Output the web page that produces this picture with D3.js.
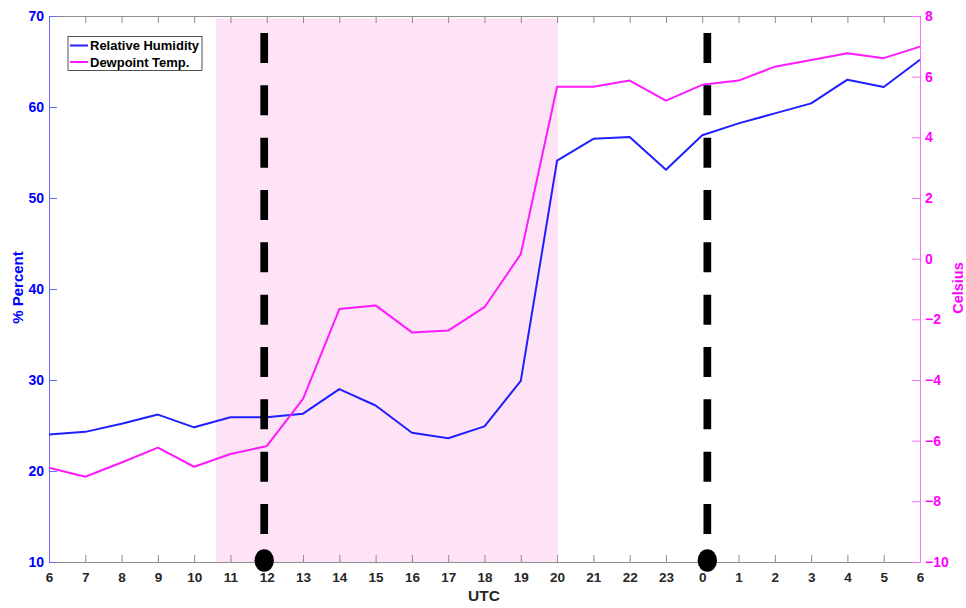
<!DOCTYPE html>
<html>
<head>
<meta charset="utf-8">
<script src="https://cdn.jsdelivr.net/npm/d3@7"></script>
<style>
  html, body { margin: 0; padding: 0; background: #fff; }
  svg { display: block; font-family: "Liberation Sans", Arial, Helvetica, sans-serif; font-weight: bold; }
</style>
</head>
<body>
<svg id="chart" width="966" height="608"></svg>
<script>
// ---- data ----
const hourLabels = ["6","7","8","9","10","11","12","13","14","15","16","17","18","19","20","21","22","23","0","1","2","3","4","5","6"];
const relHumidity = [24.0, 24.3, 25.2, 26.2, 24.8, 25.9, 25.9, 26.3, 29.0, 27.2, 24.2, 23.6, 24.9, 29.9, 54.1, 56.5, 56.7, 53.1, 56.9, 58.2, 59.3, 60.4, 63.0, 62.2, 65.2];
const dewpoint = [-6.89, -7.19, -6.72, -6.23, -6.86, -6.44, -6.18, -4.62, -1.66, -1.54, -2.43, -2.37, -1.60, 0.15, 5.67, 5.67, 5.87, 5.21, 5.73, 5.87, 6.33, 6.55, 6.77, 6.61, 6.99];
const leftTicks = [10, 20, 30, 40, 50, 60, 70];
const rightTicks = [-10, -8, -6, -4, -2, 0, 2, 4, 6, 8];
const shadeSpan = [4.6, 14.02];          // in hour-index units (10:36 to 20:00 UTC)
const markerTimes = [5.93, 18.14];       // hour-index of the two event markers
const seriesNames = ["Relative Humidity", "Dewpoint Temp."];
const seriesColors = ["#1f1fff", "#ff19ff"];

// ---- layout ----
const L = 49, R = 920, T = 16, B = 562;
const svg = d3.select("#chart");

const x = d3.scaleLinear().domain([0, hourLabels.length - 1]).range([L, R]);
const yL = d3.scaleLinear().domain([10, 70]).range([B, T]);
const yR = d3.scaleLinear().domain([-10, 8]).range([B, T]);

// shaded period
svg.append("rect")
  .attr("x", x(shadeSpan[0]))
  .attr("y", yL(69.75))
  .attr("width", x(shadeSpan[1]) - x(shadeSpan[0]))
  .attr("height", yL(10) - yL(69.75))
  .attr("fill", "#fee3f6");

// top & bottom axes
const bottomAxis = d3.axisBottom(x)
  .tickValues(d3.range(hourLabels.length))
  .tickFormat(i => hourLabels[i])
  .tickSizeInner(-7).tickSizeOuter(0).tickPadding(10);
const gB = svg.append("g").attr("transform", `translate(0,${B})`).call(bottomAxis);
gB.select(".domain").attr("stroke", "#8c8c8c");
gB.selectAll(".tick line").attr("stroke", "#8c8c8c");
gB.selectAll(".tick text").attr("fill", "#262626").attr("font-size", 13.5).attr("font-weight", "bold")
  .attr("font-family", "Liberation Sans, Arial, sans-serif");

const topAxis = d3.axisTop(x)
  .tickValues(d3.range(hourLabels.length))
  .tickFormat("")
  .tickSizeInner(-7).tickSizeOuter(0);
const gT = svg.append("g").attr("transform", `translate(0,${T})`).call(topAxis);
gT.select(".domain").attr("stroke", "#8c8c8c");
gT.selectAll(".tick line").attr("stroke", "#8c8c8c");

// left axis
const leftAxis = d3.axisLeft(yL).tickValues(leftTicks).tickSizeInner(-8).tickSizeOuter(0).tickPadding(5);
const gL = svg.append("g").attr("transform", `translate(${L},0)`).call(leftAxis);
gL.select(".domain").attr("stroke", "#6a6aff");
gL.selectAll(".tick line").attr("stroke", "#6a6aff");
gL.selectAll(".tick text").attr("fill", "#0000ff").attr("font-size", 14).attr("font-weight", "bold")
  .attr("font-family", "Liberation Sans, Arial, sans-serif");

// right axis
const rightAxis = d3.axisRight(yR).tickValues(rightTicks).tickSizeInner(-8).tickSizeOuter(0).tickPadding(5);
const gR = svg.append("g").attr("transform", `translate(${R},0)`).call(rightAxis);
gR.select(".domain").attr("stroke", "#ff6aff");
gR.selectAll(".tick line").attr("stroke", "#ff6aff");
gR.selectAll(".tick text").attr("fill", "#ff00ff").attr("font-size", 14).attr("font-weight", "bold")
  .attr("font-family", "Liberation Sans, Arial, sans-serif");

// series lines
const lineRH = d3.line().x((d, i) => x(i)).y(d => yL(d));
const lineDP = d3.line().x((d, i) => x(i)).y(d => yR(d));
svg.append("path").datum(relHumidity).attr("d", lineRH)
  .attr("fill", "none").attr("stroke", seriesColors[0]).attr("stroke-width", 2).attr("stroke-linejoin", "round");
svg.append("path").datum(dewpoint).attr("d", lineDP)
  .attr("fill", "none").attr("stroke", seriesColors[1]).attr("stroke-width", 2).attr("stroke-linejoin", "round");

// event markers: dashed vertical lines + dots
markerTimes.forEach(t => {
  svg.append("line")
    .attr("x1", x(t)).attr("x2", x(t))
    .attr("y1", 33).attr("y2", 534)
    .attr("stroke", "#000").attr("stroke-width", 7.7)
    .attr("stroke-dasharray", "30,22.33");
  svg.append("ellipse")
    .attr("cx", x(t)).attr("cy", 560.5)
    .attr("rx", 9.7).attr("ry", 11.3)
    .attr("fill", "#000");
});

// axis titles
svg.append("text").attr("x", 484).attr("y", 601).attr("text-anchor", "middle")
  .attr("font-size", 15.5).attr("fill", "#262626").text("UTC");
svg.append("text").attr("transform", "translate(23,287.5) rotate(-90)").attr("text-anchor", "middle")
  .attr("font-size", 15).attr("fill", "#0000ff").text("% Percent");
svg.append("text").attr("transform", "translate(963,288) rotate(-90)").attr("text-anchor", "middle")
  .attr("font-size", 14.5).attr("fill", "#ff00ff").text("Celsius");

// legend
const lg = svg.append("g");
lg.append("rect").attr("x", 68).attr("y", 36.5).attr("width", 134).attr("height", 34)
  .attr("fill", "#fff").attr("stroke", "#262626").attr("stroke-width", 0.8);
seriesNames.forEach((name, i) => {
  const yy = 45.5 + i * 16.5;
  lg.append("line").attr("x1", 70).attr("x2", 88).attr("y1", yy).attr("y2", yy)
    .attr("stroke", seriesColors[i]).attr("stroke-width", 2);
  lg.append("text").attr("x", 90).attr("y", yy + 4.5).attr("font-size", 13)
    .attr("fill", "#000").text(name);
});
</script>
</body>
</html>
